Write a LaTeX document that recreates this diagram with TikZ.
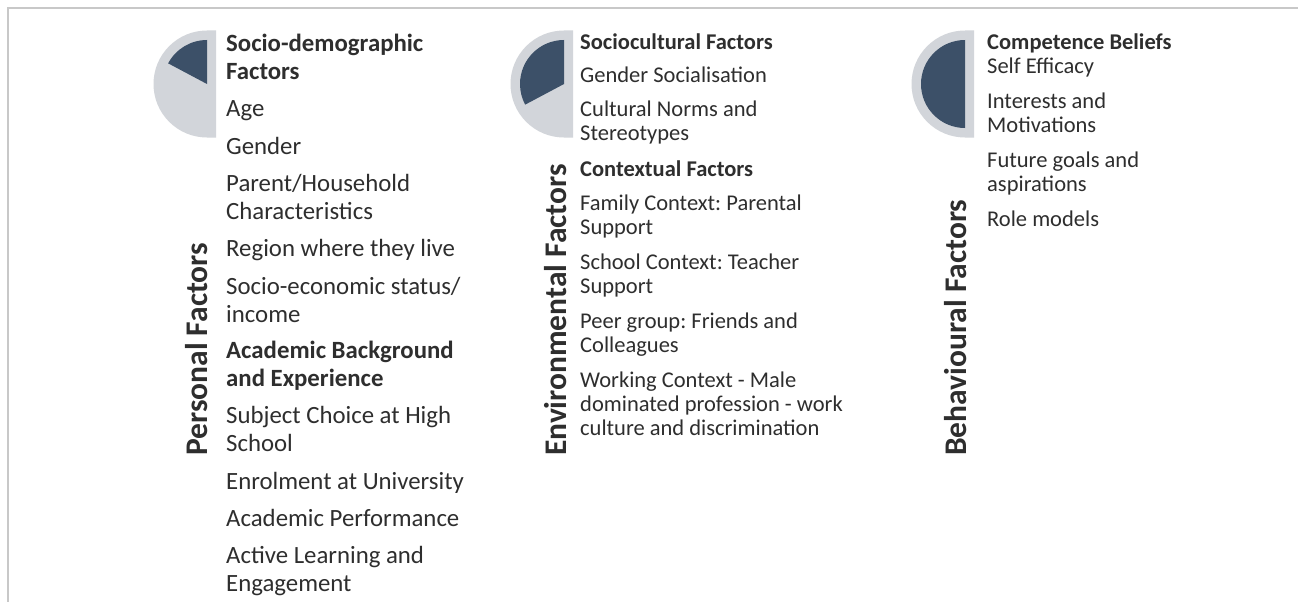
\documentclass[tikz,border=0pt]{standalone}
\usepackage{fontspec}
\setmainfont{Carlito}
\frenchspacing
\definecolor{slate}{HTML}{3C5068}
\definecolor{pale}{HTML}{D2D5DA}
\definecolor{ink}{HTML}{2E2E2E}
\definecolor{frame}{HTML}{C8C8C8}
\begin{document}
% y runs downwards; a multi-line node is placed by the baseline of its last line
\begin{tikzpicture}[x=1pt,y=-1pt,
  itemA/.style={anchor=base west,inner sep=0pt,align=left,text=ink,font=\fontsize{24.8}{28}\selectfont},
  headA/.style={itemA,font=\fontsize{24.8}{28}\selectfont\bfseries},
  itemB/.style={anchor=base west,inner sep=0pt,align=left,text=ink,font=\fontsize{22.5}{24}\selectfont},
  headB/.style={itemB,font=\fontsize{22.5}{24}\selectfont\bfseries},
  side/.style={anchor=base west,inner sep=0pt,rotate=90,text=ink,font=\fontsize{31.5}{34}\selectfont\bfseries}]
\useasboundingbox (0,0) rectangle (1298,602);
\fill[white] (0,0) rectangle (1298,602);
% frame lines
\draw[frame,line width=1.5pt] (8,602) -- (8,8) -- (1298,8);

% pie markers: pale half disc with a slate sector (angles in the flipped y frame)
\newcommand{\piemark}[3]{%
  \fill[pale] (#1,30.5) arc[start angle=270,end angle=90,radius=53.5] -- (#1+9,137.5) -- (#1+9,30.5) -- cycle;
  \fill[slate] (#1,#2) -- (#1,#2-44) arc[start angle=270,end angle=#3,radius=44] -- cycle;}
\piemark{207}{84}{208}
\piemark{564}{84}{152}
\piemark{965}{84}{90}

% Personal factors
\node[side] (pf) at (207,456) {Personal Factors};
\node[headA] (p1) at (226,79) {Socio-demographic\\Factors};
\node[itemA] (p2) at (226,116) {Age};
\node[itemA] (p3) at (226,154) {Gender};
\node[itemA] (p4) at (226,219) {Parent/Household\\Characteristics};
\node[itemA] (p5) at (226,256) {Region where they live};
\node[itemA] (p6) at (226,322) {Socio-economic status/\\income};
\node[headA] (p7) at (226,386) {Academic Background\\and Experience};
\node[itemA] (p8) at (226,451) {Subject Choice at High\\School};
\node[itemA] (p9) at (226,489) {Enrolment at University};
\node[itemA] (p10) at (226,526) {Academic Performance};
\node[itemA] (p11) at (226,591) {Active Learning and\\Engagement};

% Environmental factors
\node[side] (ef) at (566,456) {Environmental Factors};
\node[headB] (e1) at (580,49) {Sociocultural Factors};
\node[itemB] (e2) at (580,82) {Gender Socialisation};
\node[itemB] (e3) at (580,140) {Cultural Norms and\\Stereotypes};
\node[headB] (e4) at (580,176) {Contextual Factors};
\node[itemB] (e5) at (580,234) {Family Context: Parental\\Support};
\node[itemB] (e6) at (580,293) {School Context: Teacher\\Support};
\node[itemB] (e7) at (580,352) {Peer group: Friends and\\Colleagues};
\node[itemB] (e8) at (580,435) {Working Context - Male\\dominated profession - work\\culture and discrimination};

% Behavioural factors
\node[side] (bf) at (966,456) {Behavioural Factors};
\node[headB] (b1) at (987,50) {Competence Beliefs};
\node[itemB] (b2) at (987,74) {Self Efficacy};
\node[itemB] (b3) at (987,132) {Interests and\\Motivations};
\node[itemB] (b4) at (987,191) {Future goals and\\aspirations};
\node[itemB] (b5) at (987,226) {Role models};
\end{tikzpicture}
\end{document}
